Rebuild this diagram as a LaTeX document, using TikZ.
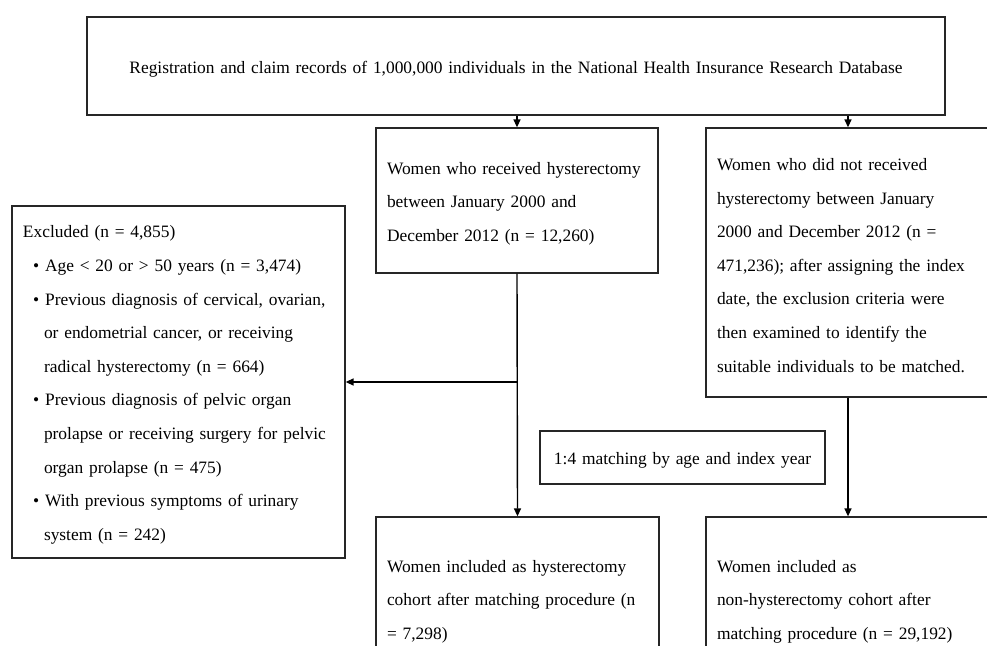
\documentclass[tikz,border=0pt]{standalone}
\usepackage{fontspec}
\setmainfont{Liberation Serif}
\usetikzlibrary{arrows.meta}
\begin{document}
\begin{tikzpicture}[x=1pt,y=-1pt,
  box/.style={draw=black!85, line width=1.3pt, rectangle, align=left, inner xsep=11pt, inner ysep=0pt,
    font=\fontsize{17.4}{33.6}\selectfont, execute at begin node={\rule{0pt}{18pt}}},
  arr/.style={line width=1.4pt, -{Triangle[length=8pt,width=7pt]}}]
\useasboundingbox (0,0) rectangle (987,645);
\fill[white] (0,0) rectangle (987,645);
% top box
\node[box, align=center, minimum width=858pt, minimum height=98pt, text width=836pt] (top) at (516,66)
  {Registration and claim records of 1,000,000 individuals in the National Health Insurance Research Database};
% hysterectomy box
\node[box, minimum width=282pt, minimum height=145pt, text width=260pt] (hyst) at (517,200.5)
  {Women who received hysterectomy\\between January 2000 and\\December 2012 (n = 12,260)};
% non-hysterectomy box
\node[box, minimum width=284pt, minimum height=269pt, text width=262pt] (non) at (848,262.5)
  {Women who did not received\\hysterectomy between January\\2000 and December 2012 (n =\\471,236); after assigning the index\\date, the exclusion criteria were\\then examined to identify the\\suitable individuals to be matched.};
% excluded box
\node[box, minimum width=333pt, minimum height=352pt, text width=311pt] (excl) at (178.5,382)
  {Excluded (n = 4,855)\\
   \hspace*{10pt}\textbullet\hspace{6pt}Age < 20 or > 50 years (n = 3,474)\\
   \hspace*{10pt}\textbullet\hspace{6pt}Previous diagnosis of cervical, ovarian,\\
   \hspace*{21pt}or endometrial cancer, or receiving\\
   \hspace*{21pt}radical hysterectomy (n = 664)\\
   \hspace*{10pt}\textbullet\hspace{6pt}Previous diagnosis of pelvic organ\\
   \hspace*{21pt}prolapse or receiving surgery for pelvic\\
   \hspace*{21pt}organ prolapse (n = 475)\\
   \hspace*{10pt}\textbullet\hspace{6pt}With previous symptoms of urinary\\
   \hspace*{21pt}system (n = 242)};
% matching box
\node[box, align=center, minimum width=285pt, minimum height=53pt, text width=263pt] (match) at (682.5,457.5)
  {1:4 matching by age and index year};
% bottom boxes
\node[box, minimum width=283pt, minimum height=163pt, text width=261pt] (hcoh) at (517.5,598.5)
  {Women included as hysterectomy\\cohort after matching procedure (n\\= 7,298)};
\node[box, minimum width=284pt, minimum height=163pt, text width=262pt] (ncoh) at (848,598.5)
  {Women included as\\non-hysterectomy cohort after\\matching procedure (n = 29,192)};
% connectors
\draw[arr] (top.south -| hyst.north) -- (hyst.north);
\draw[arr] (top.south -| non.north) -- (non.north);
\draw[arr] (hyst.south) -- (hcoh.north);
\coordinate (branch) at (hyst.south |- excl.east);
\draw[arr] (branch) -- (excl.east);
\draw[arr] (non.south) -- (ncoh.north);
\end{tikzpicture}
\end{document}
